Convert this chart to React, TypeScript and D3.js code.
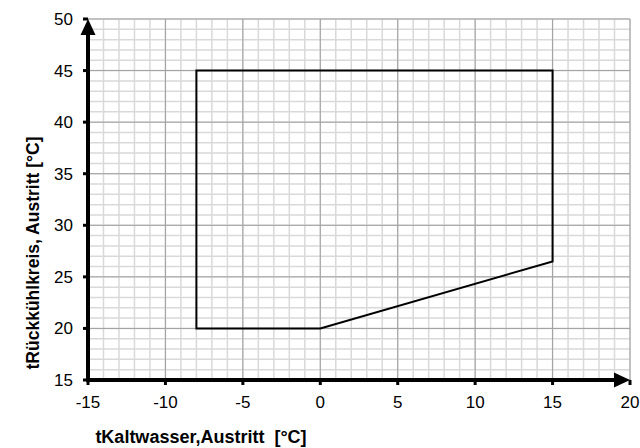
import * as d3 from "d3"

const xTicks = [-15, -10, -5, 0, 5, 10, 15, 20]
const yTicks = [15, 20, 25, 30, 35, 40, 45, 50]
// envelope: kaltwasser outlet vs rückkühl outlet
const envX = [-8, 15, 15, 0, -8]
const envY = [45, 45, 26.5, 20, 20]

export default function App() {
  const width = 640
  const height = 448
  const margin = { top: 19, right: 10, bottom: 68, left: 88 }

  const x = d3.scaleLinear().domain([-15, 20]).range([margin.left, width - margin.right])
  const y = d3.scaleLinear().domain([15, 50]).range([height - margin.bottom, margin.top])

  const minorX = d3.range(-15, 21, 1)
  const minorY = d3.range(15, 51, 1)

  const pts: [number, number][] = envX.map((v, i) => [v, envY[i]])
  const line = d3
    .line<[number, number]>()
    .x((d) => x(d[0]))
    .y((d) => y(d[1]))
    .curve(d3.curveLinearClosed)

  const font = "'Liberation Sans', Arial, sans-serif"
  const x0 = x(-15)
  const y0 = y(15)

  return (
    <svg width={width} height={height} style={{ position: "absolute", left: 0, top: 0, background: "#fff" }}>
      <g>
        {minorX.map((v) => (
          <line key={"mx" + v} x1={x(v)} x2={x(v)} y1={y(15)} y2={y(50)} stroke="#d9d9d9" strokeWidth={1.5} />
        ))}
        {minorY.map((v) => (
          <line key={"my" + v} y1={y(v)} y2={y(v)} x1={x(-15)} x2={x(20)} stroke="#d9d9d9" strokeWidth={1.5} />
        ))}
        {xTicks.map((v) => (
          <line key={"Mx" + v} x1={x(v)} x2={x(v)} y1={y(15)} y2={y(50)} stroke="#a0a0a0" strokeWidth={1} />
        ))}
        {yTicks.map((v) => (
          <line key={"My" + v} y1={y(v)} y2={y(v)} x1={x(-15)} x2={x(20)} stroke="#a0a0a0" strokeWidth={1} />
        ))}
      </g>
      <path d={line(pts) ?? ""} fill="none" stroke="#000" strokeWidth={2} strokeLinejoin="miter" />
      {/* axes */}
      <line x1={x0} x2={x(20) - 12} y1={y0} y2={y0} stroke="#000" strokeWidth={4} />
      <line x1={x0} x2={x0} y1={y0 + 2} y2={y(50) + 12} stroke="#000" strokeWidth={4} />
      <path d={`M${x(20)},${y0} L${x(20) - 16},${y0 - 7.5} L${x(20) - 16},${y0 + 7.5} Z`} fill="#000" />
      <path d={`M${x0},${y(50)} L${x0 - 7.5},${y(50) + 16} L${x0 + 7.5},${y(50) + 16} Z`} fill="#000" />
      {xTicks.map((v) => (
        <g key={"xt" + v}>
          <line x1={x(v)} x2={x(v)} y1={y0} y2={y0 + 5} stroke="#000" strokeWidth={3} />
          <text x={x(v)} y={y0 + 28} textAnchor="middle" fontFamily={font} fontSize={17} fill="#000">
            {v}
          </text>
        </g>
      ))}
      {yTicks.map((v) => (
        <g key={"yt" + v}>
          <line x1={x0 - 5} x2={x0} y1={y(v)} y2={y(v)} stroke="#000" strokeWidth={3} />
          <text x={x0 - 15} y={y(v) + 6} textAnchor="end" fontFamily={font} fontSize={17} fill="#000">
            {v}
          </text>
        </g>
      ))}
      <text x={201} y={443} textAnchor="middle" fontFamily={font} fontSize={18} fontWeight="bold" fill="#000">
        {"tKaltwasser,Austritt \u00a0[°C]"}
      </text>
      <text
        transform={`translate(39,253) rotate(-90)`}
        textAnchor="middle"
        fontFamily={font}
        fontSize={17.5}
        fontWeight="bold"
        fill="#000"
      >
        tRückkühlkreis, Austritt [°C]
      </text>
    </svg>
  )
}
